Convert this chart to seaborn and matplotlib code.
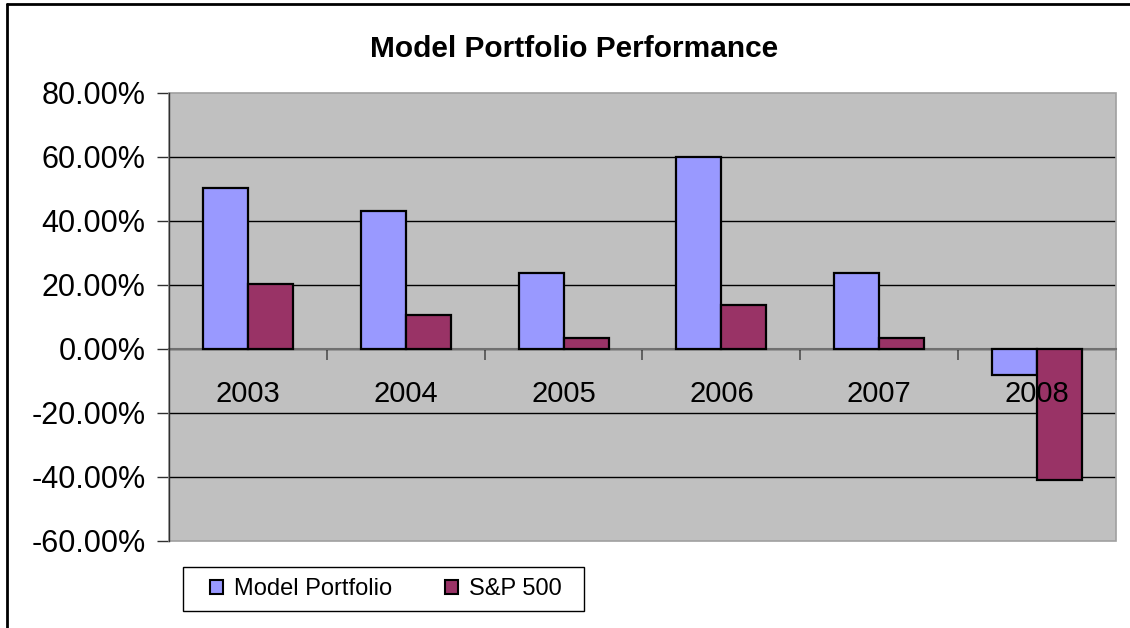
import numpy as np
import pandas as pd
import seaborn as sns
import matplotlib.pyplot as plt
from matplotlib.patches import Rectangle, Patch
from matplotlib.lines import Line2D
from matplotlib.ticker import FuncFormatter

years = ["2003", "2004", "2005", "2006", "2007", "2008"]
model = [50.3, 43.2, 23.8, 60.0, 23.8, -8.3]
sp500 = [20.2, 10.7, 3.5, 13.6, 3.5, -41.1]
series = ["Model Portfolio", "S&P 500"]
colors = ["#9999FF", "#993366"]
yticks = [-60, -40, -20, 0, 20, 40, 60, 80]

df = pd.DataFrame({
    "Year": years * 2,
    "Return": model + sp500,
    "Series": [series[0]] * len(years) + [series[1]] * len(years),
})

sns.set_style("white")
plt.rcParams['font.family'] = ['Liberation Sans', 'DejaVu Sans']
plt.rcParams['text.color'] = 'black'
plt.rcParams['axes.labelcolor'] = 'black'

W, H = 1130, 628
fig = plt.figure(figsize=(W / 100, H / 100), dpi=100)
L, R, T, B = 169, 1116, 92.7, 541
ax = fig.add_axes([L / W, 1 - B / H, (R - L) / W, (B - T) / H])
ax.set_facecolor("#C0C0C0")

sns.barplot(data=df, x="Year", y="Return", hue="Series", palette=colors,
            width=0.57, edgecolor="black", linewidth=1.6, saturation=1,
            legend=False, ax=ax, zorder=3)

ax.set_xlim(-0.5, len(years) - 0.5)
ax.set_ylim(yticks[0], yticks[-1])
ax.set_yticks(yticks)
ax.yaxis.set_major_formatter(FuncFormatter(lambda v, p: f"{v:.2f}%".replace("\u2212", "-")))
ax.yaxis.grid(True, color="black", lw=1.0)
ax.set_axisbelow(True)
gl = ax.get_ygridlines()
gl[0].set_visible(False)
gl[-1].set_visible(False)

ax.set_xlabel("")
ax.set_ylabel("")

# x axis at zero
for s in ["top", "right"]:
    ax.spines[s].set_visible(False)
ax.spines["bottom"].set_position(("data", 0))
ax.spines["bottom"].set_color("#707070")
ax.spines["bottom"].set_linewidth(1.5)
ax.spines["left"].set_color("#303030")
ax.spines["left"].set_linewidth(1.0)
ax.spines["left"].set_zorder(5)
ax.add_patch(Rectangle((0, 0), 1, 1, transform=ax.transAxes, fill=False,
                       edgecolor="#A0A0A0", lw=1.2, clip_on=False, zorder=1))

ax.set_xticks(np.arange(-0.5, len(years), 1.0))
ax.set_xticklabels([])
ax.tick_params(axis="x", which="major", length=8, width=1.2, color="#505050",
               direction="out", bottom=True)
ax.tick_params(axis="y", length=9, width=1, color="#303030", direction="out",
               pad=8, labelsize=22, labelcolor="black", left=True)

# category labels drawn above the bars
for i, yr in enumerate(years):
    ax.annotate(yr, (i, 0), xytext=(0, -53.5 * 0.72), textcoords="offset points",
                ha="center", va="baseline", fontsize=21, color="black", zorder=10,
                annotation_clip=False)

fig.text(574 / W, 1 - 57 / H, "Model Portfolio Performance", ha="center",
         va="baseline", fontsize=21.5, fontweight="bold", color="black")

# legend
handles = [Patch(facecolor=c, edgecolor="black", lw=1.5) for c in colors]
leg = fig.legend(handles, series, loc="center left",
                 bbox_to_anchor=(210 / W, 1 - 589 / H), frameon=False, ncol=2,
                 fontsize=17, borderpad=0, handlelength=0.55, handleheight=0.55,
                 handletextpad=0.47, columnspacing=2.25, borderaxespad=0)
for t in leg.get_texts():
    t.set_color("black")
fig.patches.append(Rectangle((183 / W, 1 - 611 / H), (584 - 183) / W, 44 / H,
                             transform=fig.transFigure, fill=False,
                             edgecolor="black", lw=1.0))

# outer chart frame
fig.lines.append(Line2D([7 / W, 7 / W], [0, 1 - 4 / H], transform=fig.transFigure,
                        color="black", lw=2))
fig.lines.append(Line2D([7 / W, 1], [1 - 4 / H, 1 - 4 / H], transform=fig.transFigure,
                        color="black", lw=2))

fig.savefig("out.png", dpi=100, facecolor="white")
